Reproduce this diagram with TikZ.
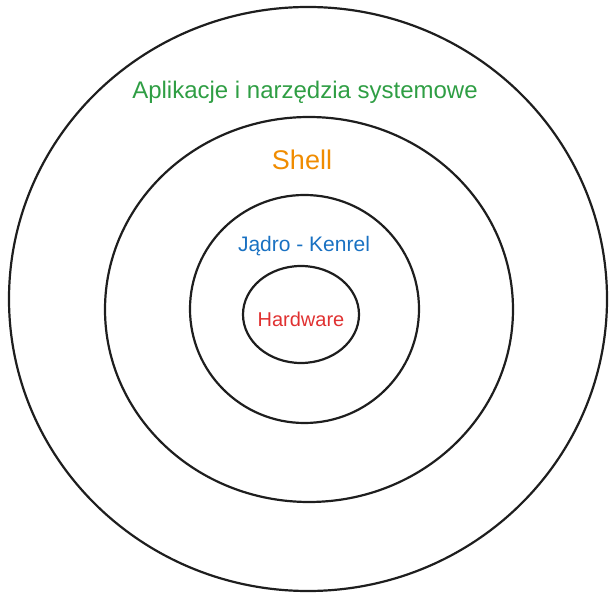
\documentclass[tikz,border=0pt]{standalone}
\usepackage{fontspec}
\setmainfont{Liberation Sans}
\usetikzlibrary{shapes.geometric}

\definecolor{ink}{HTML}{1E1E1E}
\definecolor{appgreen}{HTML}{2F9E44}
\definecolor{shellorange}{HTML}{F08C00}
\definecolor{kernelblue}{HTML}{1971C2}
\definecolor{hwred}{HTML}{E03131}

\begin{document}
\begin{tikzpicture}[x=1pt,y=-1pt,
  ring/.style={ellipse, draw=ink, line width=2.2pt, inner sep=0pt},
  layer/.style={inner sep=0pt, font=\fontsize{#1}{#1}\selectfont}]
\useasboundingbox (0,0) rectangle (616,601);
% layers of the system, outside in
\node[ring, minimum width=598pt, minimum height=584pt] (apps) at (308,299) {};
\node[ring, minimum width=408pt, minimum height=385pt] (shell) at (309,309.5) {};
\node[ring, minimum width=229pt, minimum height=228pt] (kernel) at (304.5,309) {};
\node[ring, minimum width=116pt, minimum height=97pt] (hw) at (301,314.5) {};

\node[layer=24, text=appgreen] (appslabel) at (305,92) {Aplikacje i narzędzia systemowe};
\node[layer=27, text=shellorange] (shelllabel) at (302,160) {Shell};
\node[layer=21, text=kernelblue] (kernellabel) at (304,246) {Jądro - Kenrel};
\node[layer=20, text=hwred] (hwlabel) at (301,319) {Hardware};

\end{tikzpicture}
\end{document}
